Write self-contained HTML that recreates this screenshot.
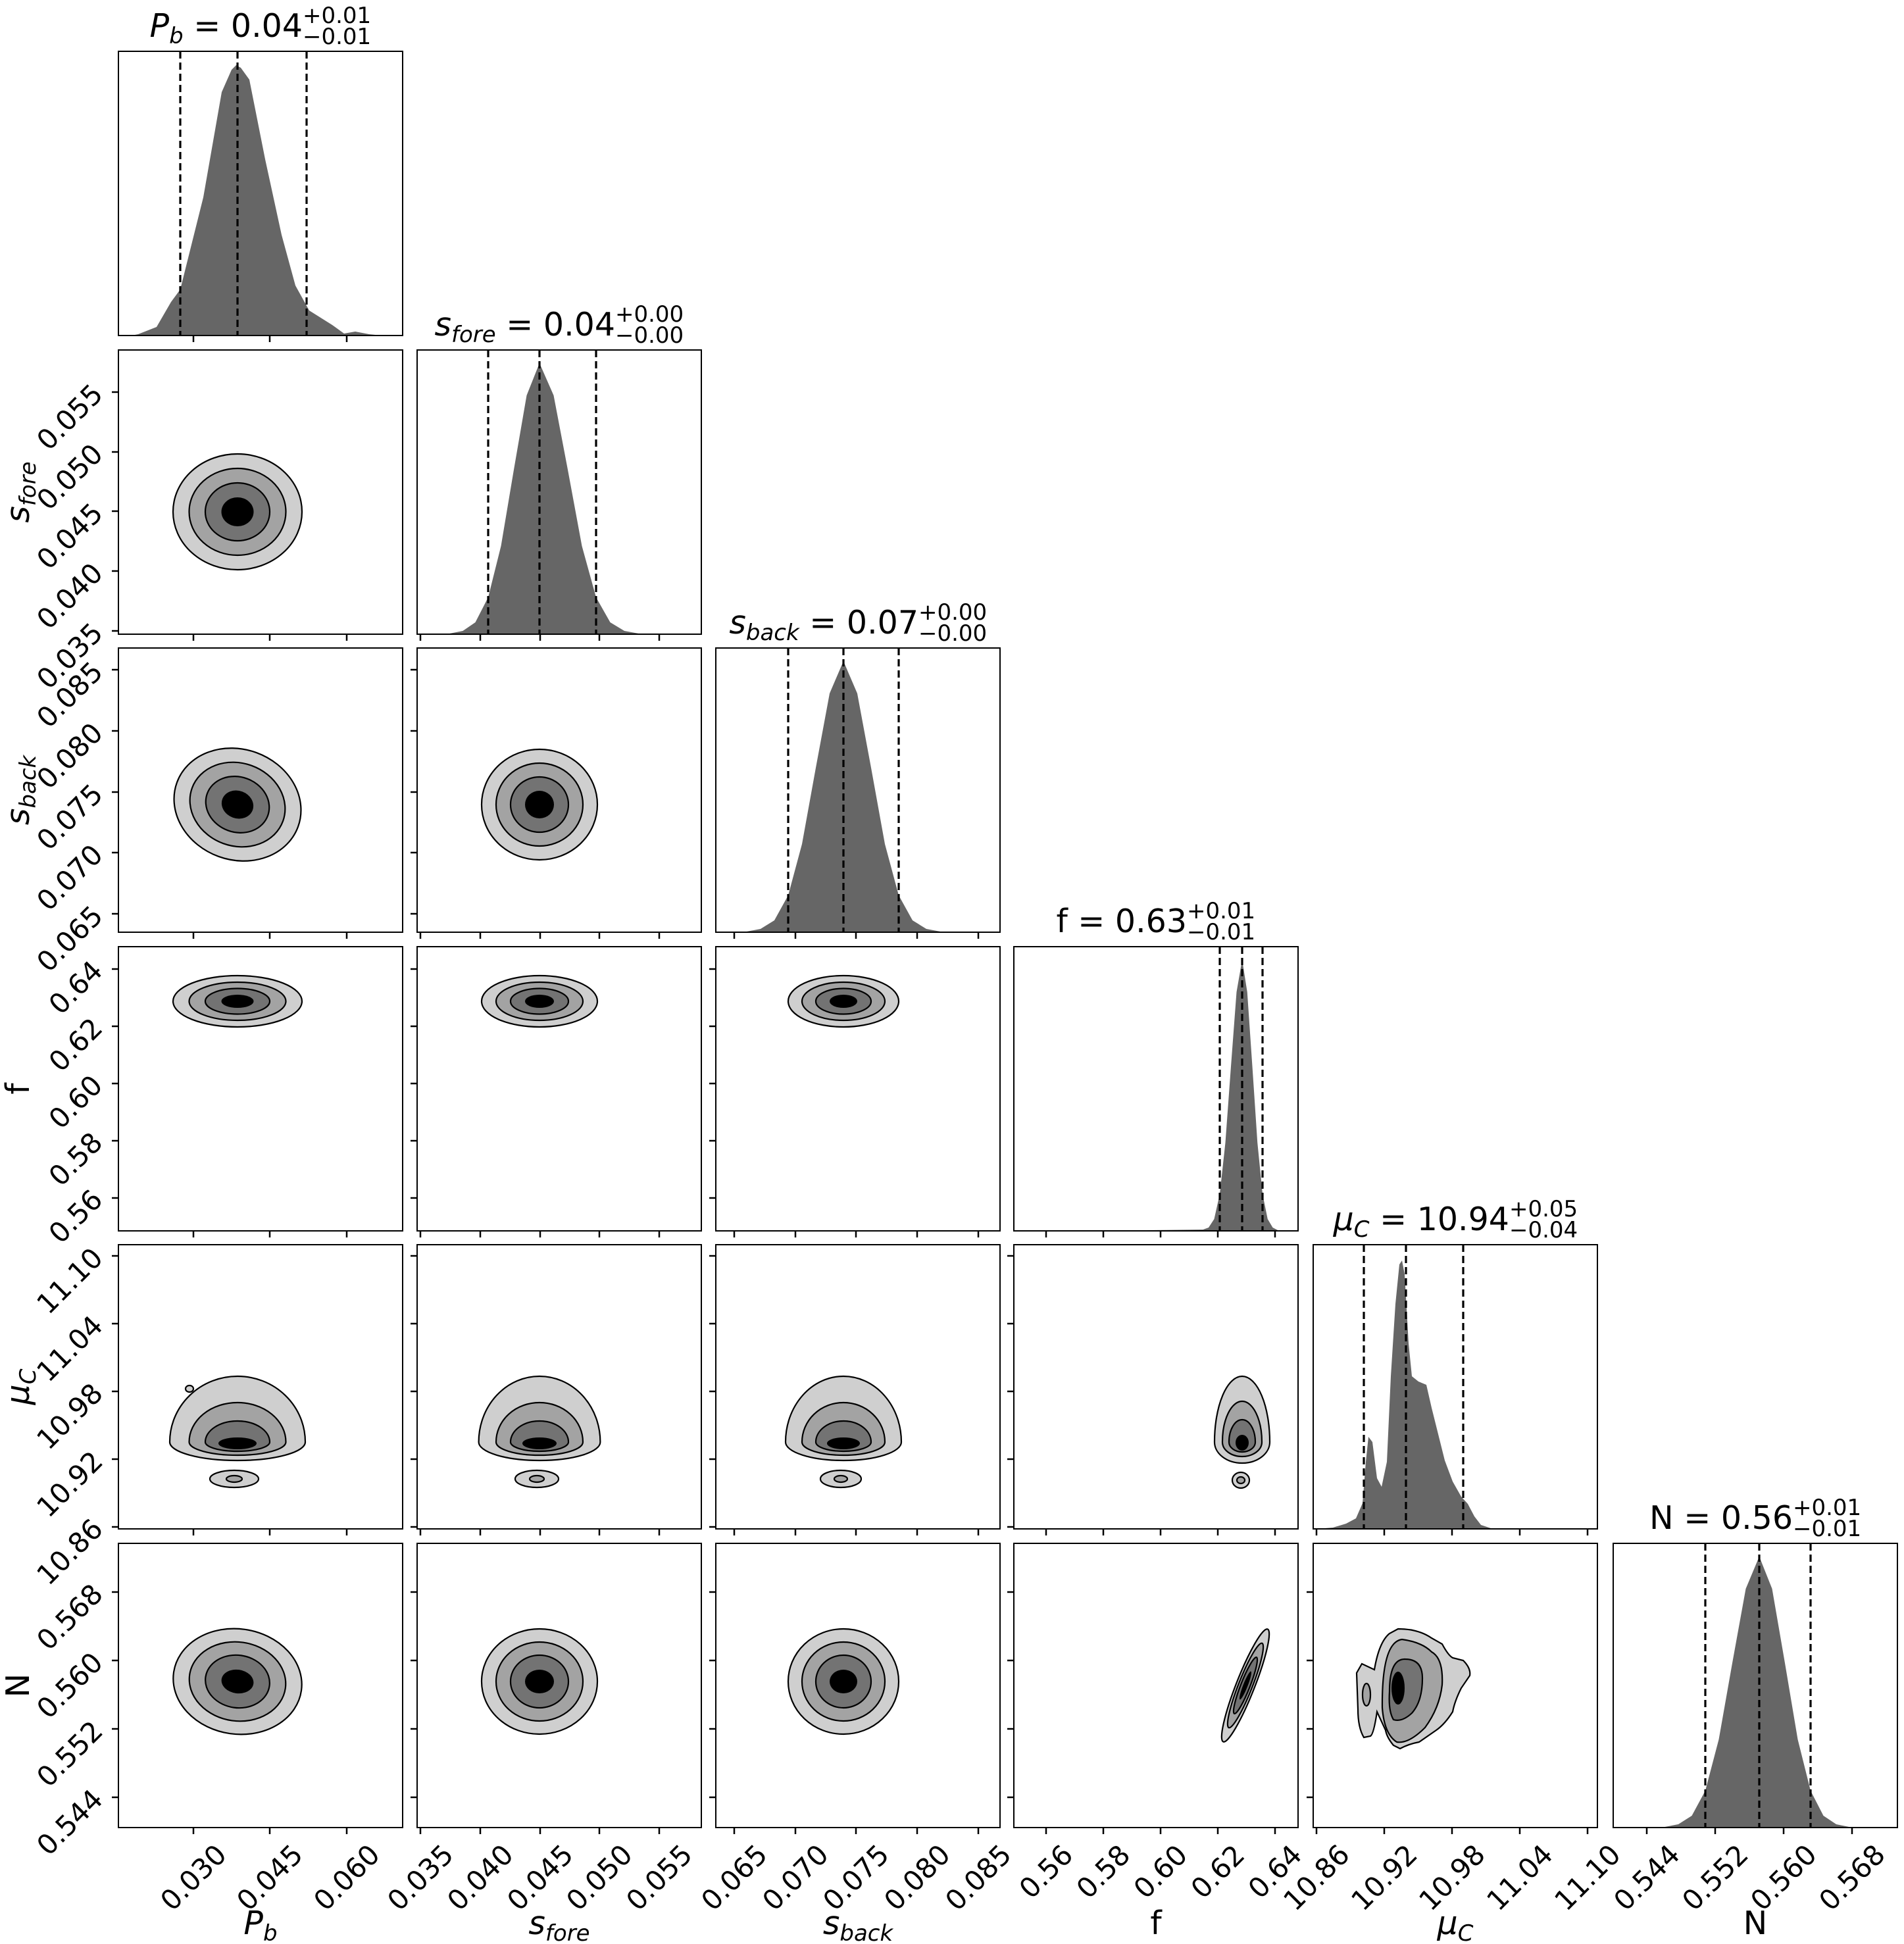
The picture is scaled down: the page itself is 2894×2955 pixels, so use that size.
<!DOCTYPE html>
<html><head><meta charset="utf-8"><style>
html,body{margin:0;padding:0;background:#fff;}
svg{display:block;}
text{font-family:"DejaVu Sans","Liberation Sans",sans-serif;fill:#000;}
.tk{font-size:42px;}
.tt{font-size:49px;}
.sm{font-size:34px;}
.c1{fill:#cfcfcf;stroke:#000;stroke-width:2.2;}
.c2{fill:#a3a3a3;stroke:#000;stroke-width:2.2;}
.c3{fill:#737373;stroke:#000;stroke-width:2.2;}
.c4{fill:#000;}
.h{fill:#666;}
.d{stroke:#000;stroke-width:3.2;stroke-dasharray:11 6;fill:none;}
.fr{fill:none;stroke:#000;stroke-width:2;}
</style></head><body>
<svg width="2894" height="2955" viewBox="0 0 2894 2955" xmlns="http://www.w3.org/2000/svg">
<rect width="2894" height="2955" fill="#fff"/>

<g transform="translate(180,78)">
<path class="h" d="M20 432 L30 430 L58 419 L80 381 L94 362 L129 222 L157 62 L172 28 L179 21 L186 25 L199 43 L223 164 L248 279 L269 356 L290 394 L325 416 L343 429 L360 426 L381 430 L400 432 Z"/>
<path class="d" d="M94 0V432M181 0V432M286 0V432"/>
</g>
<g transform="translate(634,532)">
<path class="h" d="M20 432 L49.5 431 L69.5 427 L88.5 414 L108 376 L127.5 298 L147 182 L166.5 69 L186 20 L207.5 69 L229 182 L250.5 298 L272 376 L293.5 414 L315 427 L336.5 431 L390 432 Z"/>
<path class="d" d="M108 0V432M186 0V432M272 0V432"/>
</g>
<g transform="translate(1088,985)">
<path class="h" d="M20 432 L47 431 L68 427 L89 414 L110 376 L131 298 L152 182 L173 69 L194 20 L215 69 L236 182 L257 298 L278 376 L299 414 L320 427 L341 431 L390 432Z"/>
<path class="d" d="M110 0V432M194 0V432M278 0V432"/>
</g>
<g transform="translate(1541,1439)">
<path class="h" d="M130 432 L200 431 L287.5 430 L296 427 L304.5 414 L313 376 L321.5 298 L330 182 L338.5 69 L347 20 L354.75 69 L362.5 182 L370.25 298 L378 376 L385.75 414 L393.5 427 L401.25 431 L420 432Z"/>
<path class="d" d="M313 0V432M347 0V432M378 0V432"/>
</g>
<g transform="translate(1996,1892)">
<path class="h" d="M5 432 L30 430 L50 424 L65 416 L75 393 L80 330 L84 292 L90 300 L97 355 L104 368 L112 330 L118 200 L125 90 L131 30 L135 24 L139 45 L145 150 L150 200 L160 208 L172 213 L180 248 L190 288 L200 328 L212 360 L225 383 L235 394 L245 413 L255 426 L270 431 L290 432 Z"/>
<path class="d" d="M77 0V432M141 0V432M228 0V432"/>
</g>
<g transform="translate(2452,2346)">
<path class="h" d="M30 432 L78.5 431 L99 427 L119.5 414 L140 376 L160.5 298 L181 182 L201.5 69 L222 20 L241.5 69 L261 182 L280.5 298 L300 376 L319.5 414 L339 427 L358.5 431 L400 432Z"/>
<path class="d" d="M140 0V432M222 0V432M300 0V432"/>
</g>

<g transform="translate(180,532)">
<ellipse class="c1" cx="181" cy="246" rx="98" ry="88"/><ellipse class="c2" cx="181" cy="246" rx="73.5" ry="66"/><ellipse class="c3" cx="181" cy="246" rx="49" ry="44"/><ellipse class="c4" cx="181" cy="246" rx="24.5" ry="22"/>
</g>

<g transform="translate(180,985) rotate(20 181 238)">
<ellipse class="c1" cx="181" cy="238" rx="98" ry="84"/><ellipse class="c2" cx="181" cy="238" rx="73.5" ry="63"/><ellipse class="c3" cx="181" cy="238" rx="49" ry="42"/><ellipse class="c4" cx="181" cy="238" rx="24.5" ry="21"/>
</g>
<g transform="translate(634,985)">
<ellipse class="c1" cx="186" cy="238" rx="88" ry="84"/><ellipse class="c2" cx="186" cy="238" rx="66" ry="63"/><ellipse class="c3" cx="186" cy="238" rx="44" ry="42"/><ellipse class="c4" cx="186" cy="238" rx="22" ry="21"/>
</g>

<g transform="translate(180,1439)">
<ellipse class="c1" cx="181" cy="83" rx="98" ry="39"/><ellipse class="c2" cx="181" cy="83" rx="73.5" ry="29"/><ellipse class="c3" cx="181" cy="83" rx="49" ry="19.5"/><ellipse class="c4" cx="181" cy="83" rx="24.5" ry="10"/>
</g>
<g transform="translate(634,1439)">
<ellipse class="c1" cx="186" cy="83" rx="88" ry="39"/><ellipse class="c2" cx="186" cy="83" rx="66" ry="29"/><ellipse class="c3" cx="186" cy="83" rx="44" ry="19.5"/><ellipse class="c4" cx="186" cy="83" rx="22" ry="10"/>
</g>
<g transform="translate(1088,1439)">
<ellipse class="c1" cx="194" cy="83" rx="84" ry="39"/><ellipse class="c2" cx="194" cy="83" rx="63" ry="29"/><ellipse class="c3" cx="194" cy="83" rx="42" ry="19.5"/><ellipse class="c4" cx="194" cy="83" rx="21" ry="10"/>
</g>

<g transform="translate(180,1892)">
<ellipse class="c1" cx="176" cy="356" rx="37" ry="13"/><ellipse class="c2" cx="176" cy="356" rx="12" ry="5"/>
<path class="c1" d="M78 300 A103 100 0 0 1 284 300 A103 28 0 0 1 78 300Z"/>
<path class="c2" d="M107.5 300 A73.5 60 0 0 1 254.5 300 A73.5 20 0 0 1 107.5 300Z"/>
<path class="c3" d="M132 300 A49 32 0 0 1 230 300 A49 14 0 0 1 132 300Z"/>
<ellipse class="c4" cx="181" cy="302" rx="29" ry="9"/>
<ellipse class="c1" cx="108" cy="219" rx="6" ry="5"/>
</g>
<g transform="translate(634,1892)">
<ellipse class="c1" cx="182" cy="356" rx="33" ry="13"/><ellipse class="c2" cx="182" cy="356" rx="11" ry="5"/>
<path class="c1" d="M93.6 300 A92.4 100 0 0 1 278.4 300 A92.4 28 0 0 1 93.6 300Z"/>
<path class="c2" d="M120 300 A66 60 0 0 1 252 300 A66 20 0 0 1 120 300Z"/>
<path class="c3" d="M142 300 A44 32 0 0 1 230 300 A44 14 0 0 1 142 300Z"/>
<ellipse class="c4" cx="186" cy="302" rx="26" ry="9"/>
</g>
<g transform="translate(1088,1892)">
<ellipse class="c1" cx="190" cy="356" rx="31" ry="13"/><ellipse class="c2" cx="190" cy="356" rx="10" ry="5"/>
<path class="c1" d="M106 300 A88 100 0 0 1 282 300 A88 28 0 0 1 106 300Z"/>
<path class="c2" d="M131 300 A63 60 0 0 1 257 300 A63 20 0 0 1 131 300Z"/>
<path class="c3" d="M152 300 A42 32 0 0 1 236 300 A42 14 0 0 1 152 300Z"/>
<ellipse class="c4" cx="194" cy="302" rx="25" ry="9"/>
</g>
<g transform="translate(1541,1892)">
<ellipse class="c1" cx="345" cy="358" rx="13" ry="12"/><ellipse class="c2" cx="345" cy="358" rx="6" ry="5"/>
<path class="c1" d="M305 300 A42 100 0 0 1 389 300 A42 32 0 0 1 305 300Z"/>
<path class="c2" d="M317 300 A30 62 0 0 1 377 300 A30 22 0 0 1 317 300Z"/>
<path class="c3" d="M327 300 A20 34 0 0 1 367 300 A20 15 0 0 1 327 300Z"/>
<ellipse class="c4" cx="347" cy="301" rx="10" ry="12"/>
</g>

<g transform="translate(180,2346) rotate(8 181 210)">
<ellipse class="c1" cx="181" cy="210" rx="98" ry="80"/><ellipse class="c2" cx="181" cy="210" rx="73.5" ry="60"/><ellipse class="c3" cx="181" cy="210" rx="49" ry="40"/><ellipse class="c4" cx="181" cy="210" rx="24.5" ry="18"/>
</g>
<g transform="translate(634,2346)">
<ellipse class="c1" cx="186" cy="210" rx="88" ry="80"/><ellipse class="c2" cx="186" cy="210" rx="66" ry="60"/><ellipse class="c3" cx="186" cy="210" rx="44" ry="40"/><ellipse class="c4" cx="186" cy="210" rx="22" ry="18"/>
</g>
<g transform="translate(1088,2346)">
<ellipse class="c1" cx="194" cy="210" rx="84" ry="80"/><ellipse class="c2" cx="194" cy="210" rx="63" ry="60"/><ellipse class="c3" cx="194" cy="210" rx="42" ry="40"/><ellipse class="c4" cx="194" cy="210" rx="21" ry="18"/>
</g>
<g transform="translate(1541,2346) rotate(-68.5 352 216)">
<ellipse class="c1" cx="352" cy="216" rx="92" ry="14"/><ellipse class="c2" cx="352" cy="216" rx="69" ry="10.5"/><ellipse class="c3" cx="352" cy="216" rx="46" ry="7"/><ellipse class="c4" cx="352" cy="216" rx="23" ry="3.5"/>
</g>
<g transform="translate(1996,2346)">
<path class="c1" d="M66 197 L74 183 L93 192 Q100 150 116 137 L129 130 Q160 130 180 144 L196 153 Q205 170 212 174 L228 178 Q240 190 238 201 L225 220 Q215 240 212 256 Q200 275 187 284 L161 302 Q145 305 132 312 L122 307 Q112 295 110 284 L97 256 Q92 290 87 293 L77 295 Q68 280 68 252 Z"/>
<ellipse class="c2" cx="81" cy="230" rx="6" ry="17"/>
<path class="c2" d="M105 250 Q104 150 135 146 Q165 150 180 165 Q198 175 196 215 Q192 250 170 280 Q145 305 127 302 Q108 290 105 250Z"/>
<path class="c3" d="M116 225 Q116 175 140 176 Q166 176 166 205 Q166 240 150 258 Q135 272 122 268 Q114 255 116 225Z"/>
<ellipse class="c4" cx="129" cy="220" rx="10" ry="25"/>
</g>

<g class="fr">
<rect x="180" y="78" width="432" height="432"/>
<rect x="180" y="532" width="432" height="432"/><rect x="634" y="532" width="432" height="432"/>
<rect x="180" y="985" width="432" height="432"/><rect x="634" y="985" width="432" height="432"/><rect x="1088" y="985" width="432" height="432"/>
<rect x="180" y="1439" width="432" height="432"/><rect x="634" y="1439" width="432" height="432"/><rect x="1088" y="1439" width="432" height="432"/><rect x="1541" y="1439" width="432" height="432"/>
<rect x="180" y="1892" width="432" height="432"/><rect x="634" y="1892" width="432" height="432"/><rect x="1088" y="1892" width="432" height="432"/><rect x="1541" y="1892" width="432" height="432"/><rect x="1996" y="1892" width="432" height="432"/>
<rect x="180" y="2346" width="432" height="432"/><rect x="634" y="2346" width="432" height="432"/><rect x="1088" y="2346" width="432" height="432"/><rect x="1541" y="2346" width="432" height="432"/><rect x="1996" y="2346" width="432" height="432"/><rect x="2452" y="2346" width="432" height="432"/>
</g>

<g stroke="#000" stroke-width="2.5" fill="none">
<path d="M294 510v10M410 510v10M527 510v10 M294 964v10M410 964v10M527 964v10 M294 1417v10M410 1417v10M527 1417v10 M294 1871v10M410 1871v10M527 1871v10 M294 2324v10M410 2324v10M527 2324v10 M294 2778v10M410 2778v10M527 2778v10"/>
<path d="M639 964v10M730 964v10M821 964v10M911 964v10M1002 964v10 M639 1417v10M730 1417v10M821 1417v10M911 1417v10M1002 1417v10 M639 1871v10M730 1871v10M821 1871v10M911 1871v10M1002 1871v10 M639 2324v10M730 2324v10M821 2324v10M911 2324v10M1002 2324v10 M639 2778v10M730 2778v10M821 2778v10M911 2778v10M1002 2778v10"/>
<path d="M1116 1417v10M1209 1417v10M1301 1417v10M1394 1417v10M1487 1417v10 M1116 1871v10M1209 1871v10M1301 1871v10M1394 1871v10M1487 1871v10 M1116 2324v10M1209 2324v10M1301 2324v10M1394 2324v10M1487 2324v10 M1116 2778v10M1209 2778v10M1301 2778v10M1394 2778v10M1487 2778v10"/>
<path d="M1590 1871v10M1677 1871v10M1764 1871v10M1851 1871v10M1938 1871v10 M1590 2324v10M1677 2324v10M1764 2324v10M1851 2324v10M1938 2324v10 M1590 2778v10M1677 2778v10M1764 2778v10M1851 2778v10M1938 2778v10"/>
<path d="M2001 2324v10M2104 2324v10M2207 2324v10M2310 2324v10M2413 2324v10 M2001 2778v10M2104 2778v10M2207 2778v10M2310 2778v10M2413 2778v10"/>
<path d="M2503 2778v10M2607 2778v10M2711 2778v10M2815 2778v10"/>
<path d="M170 959h10M170 868h10M170 777h10M170 687h10M170 596h10"/>
<path d="M170 1389h10M170 1296h10M170 1204h10M170 1111h10M170 1018h10 M624 1389h10M624 1296h10M624 1204h10M624 1111h10M624 1018h10"/>
<path d="M170 1821h10M170 1734h10M170 1647h10M170 1560h10M170 1473h10 M624 1821h10M624 1734h10M624 1647h10M624 1560h10M624 1473h10 M1078 1821h10M1078 1734h10M1078 1647h10M1078 1560h10M1078 1473h10"/>
<path d="M170 2321h10M170 2218h10M170 2115h10M170 2012h10M170 1909h10 M624 2321h10M624 2218h10M624 2115h10M624 2012h10M624 1909h10 M1078 2321h10M1078 2218h10M1078 2115h10M1078 2012h10M1078 1909h10 M1531 2321h10M1531 2218h10M1531 2115h10M1531 2012h10M1531 1909h10"/>
<path d="M170 2732h10M170 2628h10M170 2524h10M170 2420h10 M624 2732h10M624 2628h10M624 2524h10M624 2420h10 M1078 2732h10M1078 2628h10M1078 2524h10M1078 2420h10 M1531 2732h10M1531 2628h10M1531 2524h10M1531 2420h10 M1986 2732h10M1986 2628h10M1986 2524h10M1986 2420h10"/>
</g>

<g class="tk" text-anchor="middle" dominant-baseline="central">
<text x="294" y="2854" transform="rotate(-45 294 2854)">0.030</text>
<text x="410" y="2854" transform="rotate(-45 410 2854)">0.045</text>
<text x="527" y="2854" transform="rotate(-45 527 2854)">0.060</text>
<text x="639" y="2854" transform="rotate(-45 639 2854)">0.035</text>
<text x="730" y="2854" transform="rotate(-45 730 2854)">0.040</text>
<text x="821" y="2854" transform="rotate(-45 821 2854)">0.045</text>
<text x="911" y="2854" transform="rotate(-45 911 2854)">0.050</text>
<text x="1002" y="2854" transform="rotate(-45 1002 2854)">0.055</text>
<text x="1116" y="2854" transform="rotate(-45 1116 2854)">0.065</text>
<text x="1209" y="2854" transform="rotate(-45 1209 2854)">0.070</text>
<text x="1301" y="2854" transform="rotate(-45 1301 2854)">0.075</text>
<text x="1394" y="2854" transform="rotate(-45 1394 2854)">0.080</text>
<text x="1487" y="2854" transform="rotate(-45 1487 2854)">0.085</text>
<text x="1590" y="2845" transform="rotate(-45 1590 2845)">0.56</text>
<text x="1677" y="2845" transform="rotate(-45 1677 2845)">0.58</text>
<text x="1764" y="2845" transform="rotate(-45 1764 2845)">0.60</text>
<text x="1851" y="2845" transform="rotate(-45 1851 2845)">0.62</text>
<text x="1938" y="2845" transform="rotate(-45 1938 2845)">0.64</text>
<text x="2001" y="2854" transform="rotate(-45 2001 2854)">10.86</text>
<text x="2104" y="2854" transform="rotate(-45 2104 2854)">10.92</text>
<text x="2207" y="2854" transform="rotate(-45 2207 2854)">10.98</text>
<text x="2310" y="2854" transform="rotate(-45 2310 2854)">11.04</text>
<text x="2413" y="2854" transform="rotate(-45 2413 2854)">11.10</text>
<text x="2503" y="2854" transform="rotate(-45 2503 2854)">0.544</text>
<text x="2607" y="2854" transform="rotate(-45 2607 2854)">0.552</text>
<text x="2711" y="2854" transform="rotate(-45 2711 2854)">0.560</text>
<text x="2815" y="2854" transform="rotate(-45 2815 2854)">0.568</text>
</g>

<g class="tk" text-anchor="middle" dominant-baseline="central">
<text x="106" y="997" transform="rotate(-45 106 997)">0.035</text>
<text x="106" y="906" transform="rotate(-45 106 906)">0.040</text>
<text x="106" y="815" transform="rotate(-45 106 815)">0.045</text>
<text x="106" y="725" transform="rotate(-45 106 725)">0.050</text>
<text x="106" y="634" transform="rotate(-45 106 634)">0.055</text>
<text x="106" y="1427" transform="rotate(-45 106 1427)">0.065</text>
<text x="106" y="1334" transform="rotate(-45 106 1334)">0.070</text>
<text x="106" y="1242" transform="rotate(-45 106 1242)">0.075</text>
<text x="106" y="1149" transform="rotate(-45 106 1149)">0.080</text>
<text x="106" y="1056" transform="rotate(-45 106 1056)">0.085</text>
<text x="115" y="1849" transform="rotate(-45 115 1849)">0.56</text>
<text x="115" y="1762" transform="rotate(-45 115 1762)">0.58</text>
<text x="115" y="1675" transform="rotate(-45 115 1675)">0.60</text>
<text x="115" y="1588" transform="rotate(-45 115 1588)">0.62</text>
<text x="115" y="1501" transform="rotate(-45 115 1501)">0.64</text>
<text x="106" y="2359" transform="rotate(-45 106 2359)">10.86</text>
<text x="106" y="2256" transform="rotate(-45 106 2256)">10.92</text>
<text x="106" y="2153" transform="rotate(-45 106 2153)">10.98</text>
<text x="106" y="2050" transform="rotate(-45 106 2050)">11.04</text>
<text x="106" y="1947" transform="rotate(-45 106 1947)">11.10</text>
<text x="106" y="2770" transform="rotate(-45 106 2770)">0.544</text>
<text x="106" y="2666" transform="rotate(-45 106 2666)">0.552</text>
<text x="106" y="2562" transform="rotate(-45 106 2562)">0.560</text>
<text x="106" y="2458" transform="rotate(-45 106 2458)">0.568</text>
</g>

<g class="tt" text-anchor="middle">
<text x="396" y="2940"><tspan font-style="italic">P</tspan><tspan class="sm" font-style="italic" dy="10">b</tspan></text>
<text x="850" y="2940"><tspan font-style="italic">s</tspan><tspan class="sm" font-style="italic" dy="10">fore</tspan></text>
<text x="1304" y="2940"><tspan font-style="italic">s</tspan><tspan class="sm" font-style="italic" dy="10">back</tspan></text>
<text x="1757" y="2940">f</text>
<text x="2212" y="2940"><tspan font-style="italic">μ</tspan><tspan class="sm" font-style="italic" dy="10">C</tspan></text>
<text x="2668" y="2940">N</text>
<text x="44" y="748" transform="rotate(-90 44 748)"><tspan font-style="italic">s</tspan><tspan class="sm" font-style="italic" dy="10">fore</tspan></text>
<text x="44" y="1201" transform="rotate(-90 44 1201)"><tspan font-style="italic">s</tspan><tspan class="sm" font-style="italic" dy="10">back</tspan></text>
<text x="44" y="1655" transform="rotate(-90 44 1655)">f</text>
<text x="44" y="2108" transform="rotate(-90 44 2108)"><tspan font-style="italic">μ</tspan><tspan class="sm" font-style="italic" dy="10">C</tspan></text>
<text x="44" y="2562" transform="rotate(-90 44 2562)">N</text>
</g>

<g class="tt">
<text x="460" y="56" text-anchor="end"><tspan font-style="italic">P</tspan><tspan class="sm" font-style="italic" dy="10">b</tspan><tspan dy="-10"> = 0.04</tspan></text>
<text class="sm" x="460" y="35">+0.01</text><text class="sm" x="460" y="67">−0.01</text>

<text x="935" y="510" text-anchor="end"><tspan font-style="italic">s</tspan><tspan class="sm" font-style="italic" dy="10">fore</tspan><tspan dy="-10"> = 0.04</tspan></text>
<text class="sm" x="935" y="489">+0.00</text><text class="sm" x="935" y="521">−0.00</text>

<text x="1396" y="963" text-anchor="end"><tspan font-style="italic">s</tspan><tspan class="sm" font-style="italic" dy="10">back</tspan><tspan dy="-10"> = 0.07</tspan></text>
<text class="sm" x="1396" y="942">+0.00</text><text class="sm" x="1396" y="974">−0.00</text>

<text x="1804" y="1417" text-anchor="end">f = 0.63</text>
<text class="sm" x="1804" y="1396">+0.01</text><text class="sm" x="1804" y="1428">−0.01</text>

<text x="2294" y="1870" text-anchor="end"><tspan font-style="italic">μ</tspan><tspan class="sm" font-style="italic" dy="10">C</tspan><tspan dy="-10"> = 10.94</tspan></text>
<text class="sm" x="2294" y="1849">+0.05</text><text class="sm" x="2294" y="1881">−0.04</text>

<text x="2725" y="2324" text-anchor="end">N = 0.56</text>
<text class="sm" x="2725" y="2303">+0.01</text><text class="sm" x="2725" y="2335">−0.01</text>
</g>
</svg>
</body></html>
